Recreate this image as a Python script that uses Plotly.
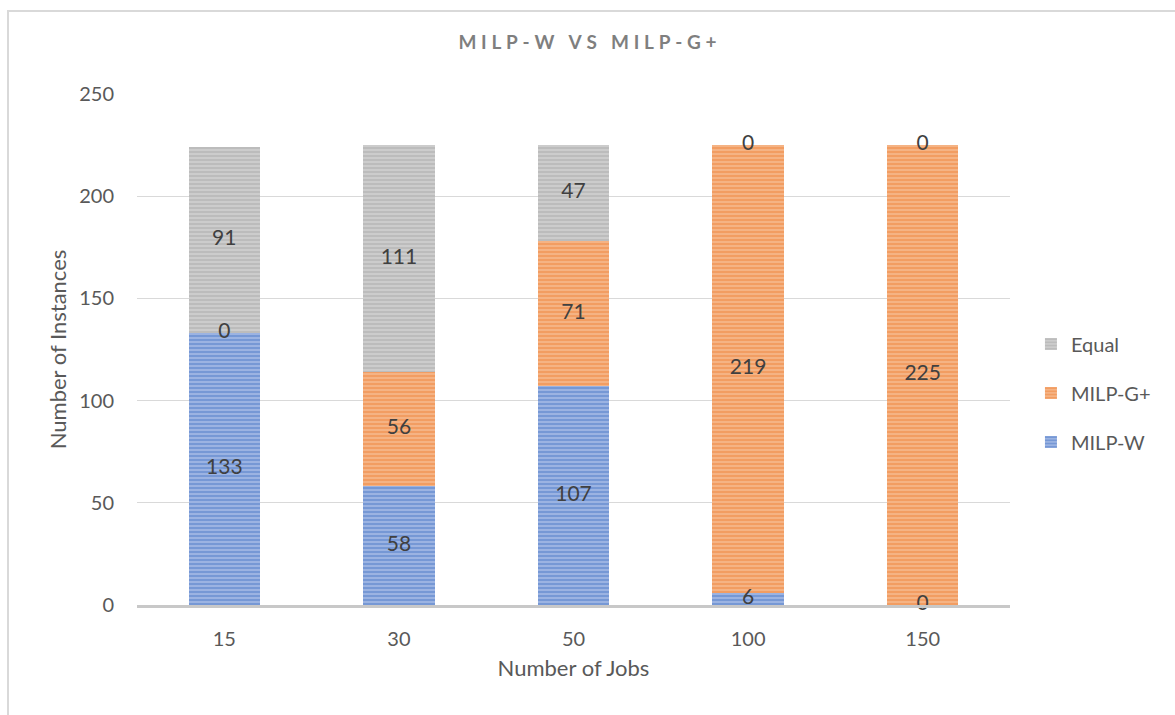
import plotly.graph_objects as go

# Job counts (x categories) and number of instances per outcome
jobs = ["15", "30", "50", "100", "150"]
milp_w = [133, 58, 107, 6, 0]
milp_g_plus = [0, 56, 71, 219, 225]
equal = [91, 111, 47, 0, 0]

# name, values, stripe colour, gap colour, legend rank
series = [
    ("MILP-W", milp_w, "#4472C4", "#A9BEE6", 3),
    ("MILP-G+", milp_g_plus, "#ED7D31", "#F6BC92", 2),
    ("Equal", equal, "#A5A5A5", "#D2D2D2", 1),
]

FONT = "Lato, 'Open Sans', sans-serif"
TEXT_GREY = "#595959"

fig = go.Figure()

base = [0] * len(jobs)
label_x, label_y, label_t = [], [], []
for name, vals, fg, bg, rank in series:
    fig.add_trace(go.Bar(
        x=jobs, y=vals, name=name, legendrank=rank, legendgroup=name,
        marker=dict(
            color=bg,
            line=dict(width=0),
            pattern=dict(shape="-", fgcolor=fg, bgcolor=bg, size=4, solidity=0.65),
        ),
    ))
    for j, v in enumerate(vals):
        label_x.append(jobs[j])
        label_y.append(base[j] + v / 2)
        label_t.append(str(v))
        base[j] += v

# value labels centred on each stacked segment
fig.add_trace(go.Scatter(
    x=label_x, y=label_y, text=label_t, mode="text",
    textfont=dict(family=FONT, size=21, color="#404040"),
    showlegend=False, hoverinfo="skip", cliponaxis=False,
))

thin = "\u2009"
words = ["MILP-W", "VS", "MILP-G+"]
title_text = (thin * 2 + " " + thin * 2).join((thin * 2).join(w) for w in words)

fig.update_layout(
    width=1175, height=715,
    barmode="stack", bargap=0.59,
    paper_bgcolor="white", plot_bgcolor="white",
    margin=dict(l=137, r=165, t=94, b=110),
    font=dict(family=FONT, size=20, color=TEXT_GREY),
    title=dict(
        text=f"<b>{title_text}</b>",
        x=0.5, xref="container", xanchor="center",
        y=1 - 42 / 715, yref="container", yanchor="middle",
        font=dict(family=FONT, size=19, color="#7F7F7F"),
    ),
    legend=dict(
        x=1.024, xanchor="left", y=0.415, yanchor="middle",
        traceorder="grouped", itemsizing="constant",
        tracegroupgap=20,
        font=dict(family=FONT, size=20, color=TEXT_GREY),
        bgcolor="rgba(0,0,0,0)",
    ),
    xaxis=dict(
        title=dict(text="Number of Jobs", standoff=12, font=dict(size=22, color=TEXT_GREY)),
        showline=True, linecolor="#C8C8C8", linewidth=3,
        showgrid=False, ticks="", ticklabelstandoff=14,
        tickfont=dict(size=20, color=TEXT_GREY),
    ),
    yaxis=dict(
        title=dict(text="Number of Instances", standoff=6, font=dict(size=22, color=TEXT_GREY)),
        range=[0, 250], dtick=50,
        showgrid=True, gridcolor="#D9D9D9", gridwidth=1,
        zeroline=False, showline=False, ticks="", ticklabelstandoff=22,
        tickfont=dict(size=20, color=TEXT_GREY),
    ),
    shapes=[dict(
        type="rect", xref="paper", yref="paper",
        x0=(8 - 137) / 873, x1=1.4,
        y0=-0.3, y1=(605 - 11) / 511,
        line=dict(color="#D9D9D9", width=2), fillcolor="rgba(0,0,0,0)",
        layer="below",
    )],
)

fig.write_html("out.html")
